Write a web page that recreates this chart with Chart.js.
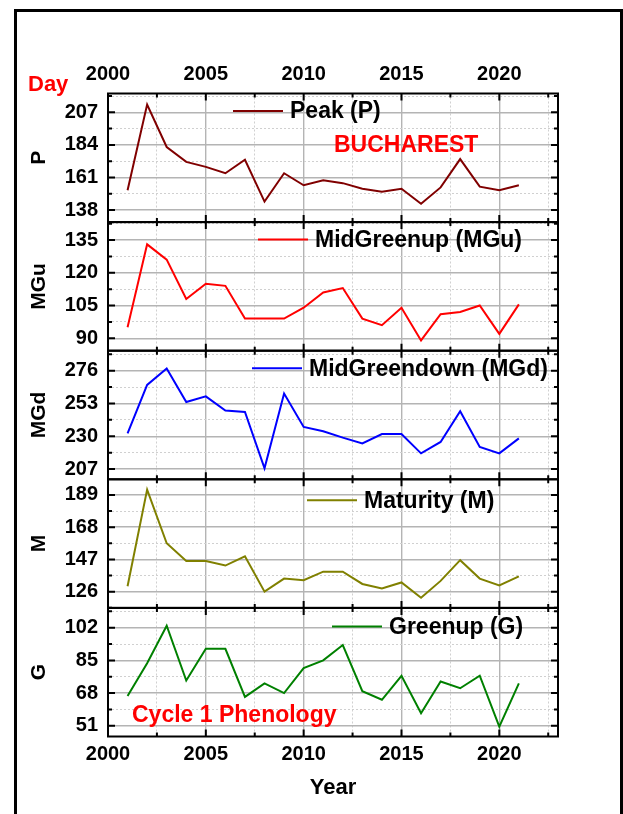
<!DOCTYPE html>
<html>
<head>
<meta charset="utf-8">
<script src="https://cdn.jsdelivr.net/npm/chart.js@4.4.1/dist/chart.umd.min.js"></script>
<style>
  html, body { margin: 0; padding: 0; background: #fff; }
  #wrap { position: relative; width: 623px; height: 814px; overflow: hidden; }
  #frame { position: absolute; left: 14px; top: 9px; width: 603px; height: 840px; border: 3px solid #000; }
  #chart { position: absolute; left: 0; top: 0; }
</style>
</head>
<body>
<div id="wrap">
  <div id="frame"></div>
  <canvas id="chart" width="623" height="814"></canvas>
</div>
<script>
// Cycle 1 phenology, Bucharest, day of year per stage
const years = [2001, 2002, 2003, 2004, 2005, 2006, 2007, 2008, 2009, 2010, 2011,
  2012, 2013, 2014, 2015, 2016, 2017, 2018, 2019, 2020, 2021];

const peak = [152, 212.5, 182.5, 172, 168.5, 164, 173.5, 144, 164, 155.5, 159,
  157, 153, 151, 153, 142.5, 154, 174, 154.5, 152, 155.5];
const midGreenup = [95, 133, 126, 108, 115, 114, 99, 99, 99, 104, 111,
  113, 99, 96, 104, 89, 101, 102, 105, 92, 105.5];
const midGreendown = [232, 266, 277.5, 254, 258, 248, 247, 207.5, 260, 236.5, 233.5,
  229, 225, 231.5, 231.5, 218, 226, 247.5, 222.5, 218, 228.5];
const maturity = [129.5, 192.5, 157.5, 146, 146, 143, 149, 126, 134.5, 133.5, 139,
  139, 131, 128, 132, 122, 133, 146.5, 134.5, 130, 136];
const greenup = [66.5, 83.5, 103, 74.5, 91, 91, 66, 73, 68, 81, 85,
  93, 69, 64.5, 77, 57.5, 74, 70.5, 77, 50.5, 73];

const xTicks = [2000, 2005, 2010, 2015, 2020];
const peakTicks = [138, 161, 184, 207];
const midGreenupTicks = [90, 105, 120, 135];
const midGreendownTicks = [207, 230, 253, 276];
const maturityTicks = [126, 147, 168, 189];
const greenupTicks = [51, 68, 85, 102];

const FONT = '"Liberation Sans", Arial, sans-serif';
const MAJOR_GRID = '#b4b4b4';
const MINOR_GRID = '#d0d0d0';

// one entry per stacked panel, top to bottom
const panels = [
  { id: 'yP', title: 'P', label: 'Peak (P)', values: peak, ticks: peakTicks,
    min: 129.5, max: 220.3, color: '#800000', legendX: 233, legendDy: 17.5 },
  { id: 'yMGu', title: 'MGu', label: 'MidGreenup (MGu)', values: midGreenup, ticks: midGreenupTicks,
    min: 84.3, max: 143.2, color: '#ff0000', legendX: 258, legendDy: 17.5 },
  { id: 'yMGd', title: 'MGd', label: 'MidGreendown (MGd)', values: midGreendown, ticks: midGreendownTicks,
    min: 199.8, max: 290, color: '#0000ff', legendX: 252, legendDy: 17.5 },
  { id: 'yM', title: 'M', label: 'Maturity (M)', values: maturity, ticks: maturityTicks,
    min: 115.4, max: 199.2, color: '#808000', legendX: 307, legendDy: 21 },
  { id: 'yG', title: 'G', label: 'Greenup (G)', values: greenup, ticks: greenupTicks,
    min: 45.4, max: 112.3, color: '#008000', legendX: 332, legendDy: 18.5 },
];

function isMajor(list, value) {
  return list.some((t) => Math.abs(t - value) < 1e-6);
}

function gridOptions(list) {
  return {
    drawTicks: false,
    color: (ctx) => (ctx.tick && isMajor(list, ctx.tick.value) ? MAJOR_GRID : MINOR_GRID),
    lineWidth: (ctx) => (ctx.tick && isMajor(list, ctx.tick.value) ? 1.4 : 1),
  };
}

function borderOptions(list) {
  return {
    display: false,
    dash: (ctx) => (ctx.tick && !isMajor(list, ctx.tick.value) ? [2, 2] : []),
  };
}

const tickFont = { family: FONT, size: 20, weight: 'bold' };

const scales = {
  x: {
    type: 'linear',
    position: 'bottom',
    min: 2000,
    max: 2023,
    ticks: {
      stepSize: 2.5,
      autoSkip: false,
      includeBounds: false,
      maxRotation: 0,
      padding: 6,
      color: '#000',
      font: tickFont,
      callback: (v) => (isMajor(xTicks, v) ? String(v) : ''),
    },
    grid: gridOptions(xTicks),
    border: borderOptions(xTicks),
    title: {
      display: true,
      text: 'Year',
      color: '#000',
      font: { family: FONT, size: 22, weight: 'bold' },
      padding: { top: 0, bottom: 5 },
    },
    afterFit: (s) => { s.height = 70; },
  },
  x2: {
    type: 'linear',
    position: 'top',
    min: 2000,
    max: 2023,
    ticks: {
      stepSize: 2.5,
      autoSkip: false,
      includeBounds: false,
      maxRotation: 0,
      padding: 7,
      color: '#000',
      font: tickFont,
      callback: (v) => (isMajor(xTicks, v) ? String(v) : ''),
    },
    grid: { display: false, drawTicks: false },
    border: { display: false },
    afterFit: (s) => { s.height = 30; },
  },
};

panels.forEach((p, i) => {
  scales[p.id] = {
    type: 'linear',
    position: 'left',
    stack: 'panels',
    stackWeight: 1,
    weight: panels.length - i,
    min: p.min,
    max: p.max,
    ticks: {
      stepSize: (p.ticks[1] - p.ticks[0]) / 2,
      autoSkip: false,
      includeBounds: false,
      padding: 10,
      color: '#000',
      font: tickFont,
      callback: (v) => (isMajor(p.ticks, v) ? String(v) : ''),
    },
    grid: gridOptions(p.ticks),
    border: borderOptions(p.ticks),
    title: {
      display: true,
      text: p.title,
      color: '#000',
      font: { family: FONT, size: 21, weight: 'bold' },
      padding: { top: 1, bottom: 0 },
    },
    afterFit: (s) => { s.width = 82; },
  };
});

const datasets = panels.map((p) => ({
  label: p.label,
  data: years.map((yr, i) => ({ x: yr, y: p.values[i] })),
  xAxisID: 'x',
  yAxisID: p.id,
  borderColor: p.color,
  backgroundColor: p.color,
  borderWidth: 2,
  pointRadius: 0,
  tension: 0,
  fill: false,
}));

// per-panel legends and the red notes
const panelLegends = {
  id: 'panelLegends',
  afterDatasetsDraw(chart) {
    const { ctx } = chart;
    ctx.save();
    ctx.textBaseline = 'middle';
    ctx.textAlign = 'left';
    panels.forEach((p) => {
      const s = chart.scales[p.id];
      const y = s.top + p.legendDy;
      ctx.strokeStyle = p.color;
      ctx.lineWidth = 2;
      ctx.beginPath();
      ctx.moveTo(p.legendX, y);
      ctx.lineTo(p.legendX + 50, y);
      ctx.stroke();
      ctx.fillStyle = '#000';
      ctx.font = 'bold 23px ' + FONT;
      ctx.fillText(p.label, p.legendX + 57, y + 1);
    });
    ctx.fillStyle = '#ff0000';
    ctx.font = 'bold 23px ' + FONT;
    ctx.fillText('BUCHAREST', 334, 146);
    ctx.fillText('Cycle 1 Phenology', 132, 716);
    ctx.font = 'bold 22px ' + FONT;
    ctx.fillText('Day', 28, 85);
    ctx.restore();
  },
};

// boxed panels with inward tick marks
const panelFrames = {
  id: 'panelFrames',
  afterDraw(chart) {
    const { ctx, chartArea: a } = chart;
    const xs = chart.scales.x;
    ctx.save();
    ctx.strokeStyle = '#000';
    ctx.lineWidth = 2;
    panels.forEach((p) => {
      const s = chart.scales[p.id];
      ctx.beginPath();
      s.ticks.forEach((t) => {
        const y = s.getPixelForValue(t.value);
        const len = isMajor(p.ticks, t.value) ? 7 : 4;
        ctx.moveTo(a.left, y);
        ctx.lineTo(a.left + len, y);
        ctx.moveTo(a.right, y);
        ctx.lineTo(a.right - len, y);
      });
      xs.ticks.forEach((t) => {
        const x = xs.getPixelForValue(t.value);
        const len = isMajor(xTicks, t.value) ? 7 : 4;
        ctx.moveTo(x, s.top);
        ctx.lineTo(x, s.top + len);
        ctx.moveTo(x, s.bottom);
        ctx.lineTo(x, s.bottom - len);
      });
      ctx.stroke();
      ctx.strokeRect(a.left, s.top, a.right - a.left, s.bottom - s.top);
    });
    ctx.restore();
  },
};

new Chart(document.getElementById('chart'), {
  type: 'line',
  data: { datasets },
  options: {
    responsive: false,
    animation: false,
    events: [],
    layout: { padding: { left: 26, right: 65, top: 63.5, bottom: 7.5 } },
    scales,
    plugins: {
      legend: { display: false },
      tooltip: { enabled: false },
    },
  },
  plugins: [panelLegends, panelFrames],
});
</script>
</body>
</html>
